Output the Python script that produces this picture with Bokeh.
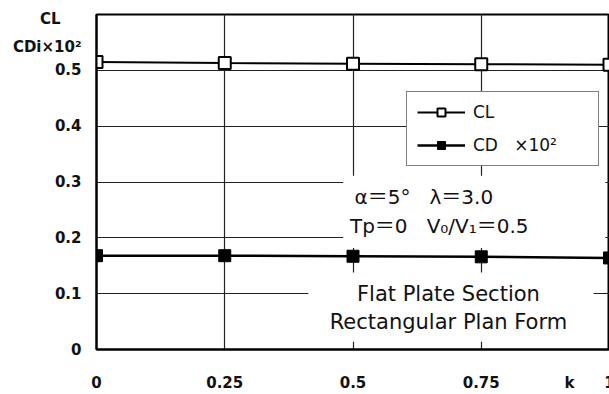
from bokeh.plotting import figure
from bokeh.models import Range1d, FixedTicker, Legend, LegendItem, Label, BoxAnnotation
from bokeh.embed import file_html
from bokeh.resources import INLINE

# ---- data ----
k = [0.0, 0.25, 0.5, 0.75, 1.0]
cl = [0.515, 0.513, 0.512, 0.511, 0.510]
cd = [0.168, 0.168, 0.167, 0.166, 0.164]
x_ticks = [0, 0.25, 0.5, 0.75, 1]
x_tick_labels = ["0", "0.25", "0.5", "0.75", "1"]
y_ticks = [0, 0.1, 0.2, 0.3, 0.4, 0.5]
y_tick_labels = ["0", "0.1", "0.2", "0.3", "0.4", "0.5"]
x_title, x_title_pos = "k", 0.922
y_title_lines = ["CL", "CDi×10²"]
y_title_pos = [0.592, 0.541]
legend_labels = ["CL", "CD\u00a0\u00a0\u00a0×10²"]

FONT = "DejaVu Sans, Noto Sans CJK JP"
NBSP = "\u00a0"

p = figure(width=609, height=394, x_range=Range1d(0, 1), y_range=Range1d(0, 0.6),
           output_backend="svg", toolbar_location=None,
           min_border_left=96, min_border_right=0, min_border_top=14, min_border_bottom=41)

p.outline_line_color = "black"
p.outline_line_width = 2
p.background_fill_color = "white"
p.border_fill_color = "white"

for ax in (p.xaxis[0], p.yaxis[0]):
    ax.axis_line_width = 2
    ax.axis_line_color = "black"
    ax.major_tick_in = 0
    ax.major_tick_out = 0
    ax.minor_tick_in = 0
    ax.minor_tick_out = 0
    ax.major_label_text_font = FONT
    ax.major_label_text_font_size = "15px"
    ax.major_label_text_font_style = "bold"
    ax.major_label_text_color = "#111111"

# axis ticks (titles "k", "CL", "CDi×10²" are placed as extra tick labels)
p.xaxis.ticker = FixedTicker(ticks=x_ticks + [x_title_pos])
xo = {t: s for t, s in zip(x_ticks, x_tick_labels)}
xo[x_title_pos] = x_title
p.xaxis.major_label_overrides = xo
p.xaxis.major_label_standoff = 24

p.yaxis.ticker = FixedTicker(ticks=y_ticks + y_title_pos)
yo = {t: s for t, s in zip(y_ticks, y_tick_labels)}
yo[y_title_pos[0]] = y_title_lines[0] + NBSP * 4
yo[y_title_pos[1]] = y_title_lines[1]
p.yaxis.major_label_overrides = yo
p.yaxis.major_label_standoff = 15

p.xgrid.ticker = FixedTicker(ticks=x_ticks)
p.ygrid.ticker = FixedTicker(ticks=y_ticks)
p.grid.grid_line_color = "#222222"
p.grid.grid_line_width = 1.2

# white panels behind annotation texts (interrupting grid lines)
p.add_layout(BoxAnnotation(left=0.481, right=0.992, bottom=0.182, top=0.311,
                           fill_color="white", fill_alpha=1, line_color=None))
p.add_layout(BoxAnnotation(left=0.413, right=0.969, bottom=0.014, top=0.138,
                           fill_color="white", fill_alpha=1, line_color=None))

r1l = p.line(k, cl, line_color="black", line_width=2)
r1s = p.scatter(k, cl, marker="square", size=12, fill_color="white",
                line_color="black", line_width=2)
r2l = p.line(k, cd, line_color="black", line_width=2.5)
r2s = p.scatter(k, cd, marker="square", size=12, fill_color="black",
                line_color="black", line_width=1)

legend = Legend(items=[LegendItem(label=legend_labels[0], renderers=[r1l, r1s]),
                       LegendItem(label=legend_labels[1], renderers=[r2l, r2s])],
                location=(310, 183), margin=0, padding=10, spacing=13,
                glyph_width=48, glyph_height=20, label_standoff=8, label_width=115,
                border_line_color="black", border_line_width=1.5,
                background_fill_color="white", background_fill_alpha=1,
                label_text_font=FONT, label_text_font_size="17px",
                label_text_color="#111111")
p.add_layout(legend)


def add_text(x, y, s, size, align="left", style="normal", color="#111111"):
    p.add_layout(Label(x=x, y=y, text=s, text_font=FONT, text_font_size=size,
                       text_align=align, text_baseline="middle",
                       text_font_style=style, text_color=color))


add_text(0.503, 0.274, "α＝5°" + NBSP * 3 + "λ＝3.0", "20px")
add_text(0.494, 0.221, "Tp＝0" + NBSP * 3 + "V₀/V₁＝0.5", "20px")
add_text(0.686, 0.099, "Flat Plate Section", "21px", align="center")
add_text(0.686, 0.049, "Rectangular Plan Form", "21px", align="center")

open("out.html", "w").write(file_html(p, INLINE))
